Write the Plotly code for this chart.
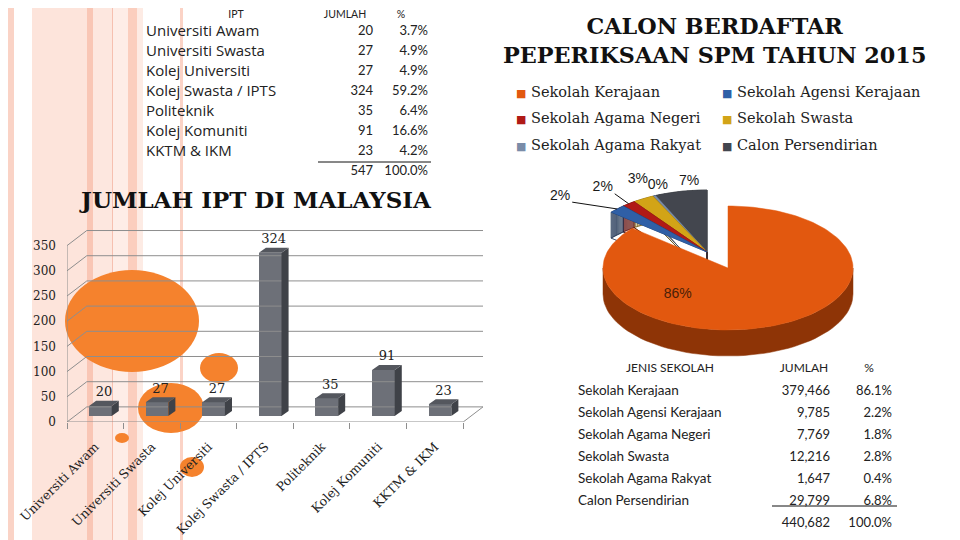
import plotly.graph_objects as go
import numpy as np

# ---- data: IPT (top left table + bar chart)
ipt_names = ['Universiti Awam', 'Universiti Swasta', 'Kolej Universiti',
             'Kolej Swasta / IPTS', 'Politeknik', 'Kolej Komuniti', 'KKTM & IKM']
ipt_counts = [20, 27, 27, 324, 35, 91, 23]
ipt_pct = ['3.7%', '4.9%', '4.9%', '59.2%', '6.4%', '16.6%', '4.2%']
ipt_total = 547
ipt_total_pct = '100.0%'
ipt_header = ['IPT', 'JUMLAH', '%']

# ---- data: SPM 2015 candidates (pie + bottom right table)
spm_names = ['Sekolah Kerajaan', 'Sekolah Agensi Kerajaan', 'Sekolah Agama Negeri',
             'Sekolah Swasta', 'Sekolah Agama Rakyat', 'Calon Persendirian']
spm_counts = [379466, 9785, 7769, 12216, 1647, 29799]
spm_pct = ['86.1%', '2.2%', '1.8%', '2.8%', '0.4%', '6.8%']
spm_total = 440682
spm_total_pct = '100.0%'
spm_header = ['JENIS SEKOLAH', 'JUMLAH', '%']

# top face / side colours of the pie slices
top_colors = ['#e2580f', '#2f5fa6', '#b01a16', '#d2a417', '#7a8ca8', '#43464e']
side_colors = ['#8e3406', '#0f2547', '#5c0a08', '#6e5407', '#3a4458', '#222429']

# the page puts the figure 8px in from the top left corner of the window
OFF = 8
W, H = 960 - OFF, 540 - OFF


def px(p):
    return (p - OFF) / W


def py(p):
    return 1 - (p - OFF) / H


fig = go.Figure()

# ---------------- bar chart (fake 3D box) ----------------
DX, DY = 0.35, 30          # depth of the box (category units, value units)
BX, BW, BY = 0.09, 0.4, 12  # bar offset, width, lift
bdx, bdy = 0.125, 10       # bar depth
n = len(ipt_names)
yticks = list(range(0, 351, 50))

gx, gy = [], []
for v in yticks:
    gx += [-0.5, -0.5 + DX, n - 0.5 + DX, None]
    gy += [v, v + DY, v + DY, None]
gx += [-0.5, -0.5, None, -0.5, n - 0.5, n - 0.5 + DX, None]
gy += [0, 350, None, 0, 0, DY, None]
fig.add_trace(go.Scatter(x=gx, y=gy, mode='lines', line=dict(color='#8e8e8e', width=1),
                         hoverinfo='skip', showlegend=False))

xc = [i + BX for i in range(n)]
fig.add_trace(go.Bar(x=xc, y=ipt_counts, base=BY, width=BW,
                     marker=dict(color='#6d7078', line=dict(width=0)), showlegend=False))

sx, sy, tx, ty = [], [], [], []
for x, v in zip(xc, ipt_counts):
    x0, x1 = x - BW / 2, x + BW / 2
    sx += [x1, x1 + bdx, x1 + bdx, x1, x1, None]
    sy += [BY, BY + bdy, BY + v + bdy, BY + v, BY, None]
    tx += [x0, x0 + bdx, x1 + bdx, x1, x0, None]
    ty += [BY + v, BY + v + bdy, BY + v + bdy, BY + v, BY + v, None]
fig.add_trace(go.Scatter(x=sx, y=sy, mode='lines', fill='toself', fillcolor='#3f4248',
                         line=dict(width=0, color='#3f4248'), hoverinfo='skip', showlegend=False))
fig.add_trace(go.Scatter(x=tx, y=ty, mode='lines', fill='toself', fillcolor='#54575e',
                         line=dict(width=0, color='#54575e'), hoverinfo='skip', showlegend=False))
fig.add_trace(go.Scatter(x=[x + bdx / 2 for x in xc], y=[v + BY + bdy + 3 for v in ipt_counts],
                         mode='text', text=[str(v) for v in ipt_counts], textposition='top center',
                         textfont=dict(family='DejaVu Serif', size=13, color='#222'),
                         hoverinfo='skip', showlegend=False))

# ---------------- 3D pie ----------------
CX, CY = 707, 252
RX, RY, DEPTH = 125, 62, 26
EXPLODE = (21, 16)
fr = np.array(spm_counts) / sum(spm_counts)
edges = np.concatenate([[0], np.cumsum(fr)]) * 2 * np.pi


def rim(cx, cy, a0, a1, k=60):
    t = np.linspace(a0, a1, k)
    return list(cx + RX * np.sin(t)), list(cy - RY * np.cos(t))


def add_poly(xs, ys, color):
    fig.add_trace(go.Scatter(x=xs, y=ys, xaxis='x2', yaxis='y2', mode='lines', fill='toself',
                             fillcolor=color, line=dict(width=0.5, color=color),
                             hoverinfo='skip', showlegend=False))


# small slices, farthest first
for i in range(len(spm_counts) - 1, 0, -1):
    a0, a1 = edges[i], edges[i + 1]
    rx_, ry_ = rim(CX, CY, a0, a1, 12)
    px_ = [CX] + rx_ + [CX]
    py_ = [CY] + ry_ + [CY]
    ex, ey = [], []
    for j in range(len(px_) - 1):
        ex += [px_[j], px_[j + 1], px_[j + 1], px_[j], px_[j], None]
        ey += [py_[j], py_[j + 1], py_[j + 1] + DEPTH, py_[j] + DEPTH, py_[j], None]
    ex += px_ + [None]
    ey += [y + DEPTH for y in py_] + [None]
    add_poly(ex, ey, side_colors[i])
    add_poly(px_, py_, top_colors[i])

# big exploded slice
bcx, bcy = CX + EXPLODE[0], CY + EXPLODE[1]
f0, f1 = max(edges[0], np.pi / 2), min(edges[1], 3 * np.pi / 2)
ux, uy = rim(bcx, bcy, f0, f1)
add_poly(ux + ux[::-1] + [ux[0]], uy + [y + DEPTH for y in uy[::-1]] + [uy[0]], side_colors[0])
bx_, by_ = rim(bcx, bcy, edges[0], edges[1], 160)
add_poly([bcx] + bx_ + [bcx], [bcy] + by_ + [bcy], top_colors[0])

# percentage labels
label_r = [0.59, 1.48, 1.33, 1.30, 1.15, 1.14]
label_nudge = [68, -6.5, 0, 5.5, 5, 5]
lx, ly, lt = [], [], []
for i, v in enumerate(spm_counts):
    mid = (edges[i] + edges[i + 1]) / 2 + np.radians(label_nudge[i])
    cx, cy = (bcx, bcy) if i == 0 else (CX, CY)
    lx.append(cx + label_r[i] * RX * np.sin(mid))
    ly.append(cy - label_r[i] * RY * np.cos(mid))
    lt.append(f'{round(100 * v / spm_total)}%')
fig.add_trace(go.Scatter(x=lx, y=ly, xaxis='x2', yaxis='y2', mode='text', text=lt,
                         textfont=dict(family='Liberation Sans', size=14,
                                       color=['#4a2008'] + ['#1a1a1a'] * 5),
                         hoverinfo='skip', showlegend=False))
# leader lines for the two crowded labels
llx, lly = [], []
for i in (1, 2):
    mid = (edges[i] + edges[i + 1]) / 2
    llx += [lx[i] + 12, CX + RX * np.sin(mid), None]
    lly += [ly[i] + 6, CY - RY * np.cos(mid), None]
fig.add_trace(go.Scatter(x=llx, y=lly, xaxis='x2', yaxis='y2', mode='lines',
                         line=dict(color='#111', width=1), hoverinfo='skip', showlegend=False))

# ---------------- IPT table (text laid out on its own pixel axes) ----------------
ROW0, ROWH, HEAD_Y = 32, 20, 15.5
col_x = [146, 373, 428]        # left edge of names, right edges of the number columns
head_x = [236, 345, 401]
rows_y = [ROW0 + ROWH * i for i in range(n + 1)]
fig.add_trace(go.Scatter(x=head_x, y=[HEAD_Y] * 3, xaxis='x3', yaxis='y3', mode='text',
                         text=ipt_header, textposition='middle center', cliponaxis=False,
                         textfont=dict(family='Lato', size=10.5, color='#222'),
                         hoverinfo='skip', showlegend=False))
fig.add_trace(go.Scatter(x=[col_x[0]] * n, y=rows_y[:n], xaxis='x3', yaxis='y3', mode='text',
                         text=ipt_names, textposition='middle right', cliponaxis=False,
                         textfont=dict(family='Open Sans', size=15, color='#222'),
                         hoverinfo='skip', showlegend=False))
fig.add_trace(go.Scatter(x=[col_x[1]] * (n + 1), y=rows_y, xaxis='x3', yaxis='y3', mode='text',
                         text=[str(v) for v in ipt_counts + [ipt_total]],
                         textposition='middle left', cliponaxis=False,
                         textfont=dict(family='Lato', size=13, color='#222'),
                         hoverinfo='skip', showlegend=False))
fig.add_trace(go.Scatter(x=[col_x[2]] * (n + 1), y=rows_y, xaxis='x3', yaxis='y3', mode='text',
                         text=ipt_pct + [ipt_total_pct], textposition='middle left',
                         cliponaxis=False, textfont=dict(family='Lato', size=13, color='#222'),
                         hoverinfo='skip', showlegend=False))

# ---------------- SPM table ----------------
clear = dict(color='rgba(0,0,0,0)')
fig.add_trace(go.Table(
    domain=dict(x=[px(570), px(900)], y=[py(H + OFF), py(355)]),
    columnwidth=[200, 68, 62],
    header=dict(values=spm_header, align='center', height=22,
                fill=clear, line=clear, font=dict(family='Lato', size=12, color='#222')),
    cells=dict(values=[spm_names + [''], [f'{v:,}' for v in spm_counts] + [f'{spm_total:,}'],
                       spm_pct + [spm_total_pct]],
               align=['left', 'right', 'right'], height=22, fill=clear, line=clear,
               font=dict(family='Lato', size=[13.5, 13, 13], color='#222'))))

# ---------------- decoration ----------------
shapes = []
stripes = [(8, 14, '#fad3c6'), (32, 87, '#fde4db'), (87, 93, '#f9c6b5'), (93, 112, '#fde7df'),
           (112, 113, '#f6c0b0'), (113, 128, '#feede7'), (128, 137, '#fbcebe'),
           (137, 143, '#fdebe4'), (180, 183, '#fbd3c6'), (953, 955, '#f2ae9c'), (955, 960, '#fcd8cc')]
for x0, x1, c in stripes:
    shapes.append(dict(type='rect', xref='paper', yref='paper', x0=px(x0), x1=px(x1),
                       y0=0, y1=1, fillcolor=c, line=dict(width=0), layer='below'))
bubbles = [(132, 321, 67, 51), (219, 368, 19, 15), (171, 408, 33, 25), (122, 438, 7, 5), (192, 467, 12, 10)]
for cx, cy, rx, ry in bubbles:
    shapes.append(dict(type='circle', xref='paper', yref='paper', x0=px(cx - rx), x1=px(cx + rx),
                       y0=py(cy + ry), y1=py(cy - ry), fillcolor='#f5822d',
                       line=dict(width=0), layer='below'))
# total underlines of the tables
shapes.append(dict(type='line', xref='paper', yref='paper', x0=px(318), x1=px(431),
                   y0=py(162), y1=py(162), line=dict(color='#111', width=1)))
shapes.append(dict(type='line', xref='paper', yref='paper', x0=px(772), x1=px(897),
                   y0=py(506), y1=py(506), line=dict(color='#111', width=1)))

annotations = [
    dict(text='<b>JUMLAH IPT DI MALAYSIA</b>', x=px(255), y=py(199), xref='paper', yref='paper',
         xanchor='center', yanchor='middle', showarrow=False,
         font=dict(family='DejaVu Serif', size=23, color='#111')),
    dict(text='<b>CALON BERDAFTAR<br>PEPERIKSAAN SPM TAHUN 2015</b>', x=px(714), y=py(40),
         xref='paper', yref='paper', xanchor='center', yanchor='middle', showarrow=False,
         font=dict(family='DejaVu Serif', size=22.3, color='#111')),
]
leg_x = [514, 720]
leg_y = [92, 118, 145]
for i, name in enumerate(spm_names):
    annotations.append(dict(
        text=f'<span style="color:{top_colors[i]};font-size:11px">■</span> {name}',
        x=px(leg_x[i % 2]), y=py(leg_y[i // 2]), xref='paper', yref='paper',
        xanchor='left', yanchor='middle', showarrow=False,
        font=dict(family='DejaVu Serif', size=14.5, color='#222')))

fig.update_layout(
    width=W, height=H, margin=dict(l=0, r=0, t=0, b=0, autoexpand=False),
    paper_bgcolor='white', plot_bgcolor='rgba(0,0,0,0)',
    shapes=shapes, annotations=annotations, bargap=0,
    xaxis=dict(domain=[px(67), px(483)], range=[-0.5, n - 0.5 + DX], automargin=False,
               tickvals=list(range(n)), ticktext=ipt_names, tickangle=-45, ticks='',
               ticklabelstandoff=14,
               minor=dict(tick0=-0.5, dtick=1, ticks='outside', ticklen=6, tickcolor='#8e8e8e'),
               showgrid=False, zeroline=False, showline=False,
               tickfont=dict(family='DejaVu Serif', size=12.5, color='#222')),
    yaxis=dict(domain=[py(422), py(228)], range=[0, 385], tickvals=yticks, automargin=False,
               ticks='', ticklabelstandoff=10, showgrid=False, zeroline=False, showline=False,
               tickfont=dict(family='DejaVu Serif', size=12, color='#222')),
    xaxis2=dict(domain=[px(500), px(900)], range=[500, 900], anchor='y2', visible=False,
                automargin=False),
    yaxis2=dict(domain=[py(380), py(150)], range=[380, 150], anchor='x2', visible=False,
                automargin=False),
    xaxis3=dict(domain=[px(140), px(440)], range=[140, 440], anchor='y3', visible=False,
                automargin=False),
    yaxis3=dict(domain=[py(185), py(OFF)], range=[185, OFF], anchor='x3', visible=False,
                automargin=False),
)

fig.write_html('out.html')
